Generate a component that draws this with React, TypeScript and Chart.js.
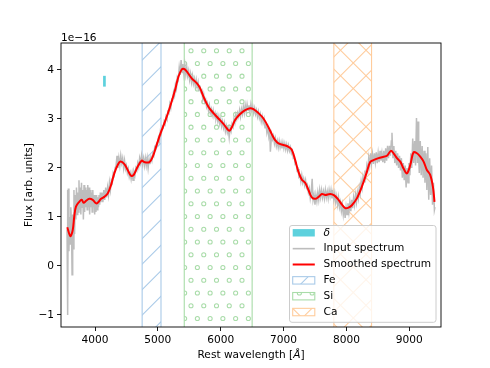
import React, { useEffect, useRef } from 'react';
import { Chart, registerables } from 'chart.js';

Chart.register(...registerables);

// ---- data ----
const inputPoints: [number, number][] = [
  [3555, 0.75], [3562, 1.55], [3568, -1.0], [3575, 1.58], [3585, 0.3], [3595, 1.0], [3605, 0.45], [3615, 1.2], [3625, 0.9], [3635, -0.18],
  [3645, 1.05], [3655, 0.35], [3665, 1.55], [3675, 0.65], [3685, 1.45], [3695, 0.95], [3705, 1.6], [3715, 1.05], [3725, 1.5], [3735, 1.1],
  [3745, 1.75], [3755, 1.15], [3765, 1.6], [3775, 1.05], [3785, 1.7], [3795, 1.2], [3805, 1.55], [3815, 0.95], [3825, 1.65], [3835, 1.1],
  [3845, 1.6], [3855, 1.2], [3865, 1.55], [3875, 1.15], [3885, 1.65], [3895, 1.2], [3905, 1.6], [3915, 1.05], [3925, 1.55], [3935, 1.2],
  [3945, 1.5], [3955, 1.1], [3965, 1.55], [3975, 1.2], [3985, 1.45], [3995, 1.05], [4005, 1.45], [4015, 1.1], [4025, 1.45], [4035, 1.15],
  [4045, 1.4], [4055, 1.2], [4065, 1.45], [4075, 1.25], [4085, 1.5], [4095, 1.3], [4110, 1.5], [4125, 1.3], [4140, 1.55], [4155, 1.35],
  [4170, 1.6], [4185, 1.4], [4200, 1.6], [4215, 1.45], [4230, 1.7], [4245, 1.55], [4260, 1.75], [4275, 1.7], [4290, 1.9], [4305, 1.85],
  [4320, 2.0], [4335, 2.05], [4350, 2.25], [4365, 2.0], [4380, 2.2], [4395, 2.05], [4410, 2.25], [4425, 2.1], [4440, 2.2], [4455, 2.0],
  [4470, 2.15], [4485, 1.98], [4500, 2.05], [4515, 1.9], [4530, 1.98], [4545, 1.82], [4560, 1.9], [4575, 1.77], [4590, 1.9], [4605, 1.75],
  [4620, 1.92], [4635, 1.85], [4650, 2.0], [4665, 1.95], [4680, 2.1], [4695, 2.02], [4710, 2.2], [4725, 2.1], [4740, 2.25], [4755, 2.08],
  [4770, 2.2], [4785, 2.05], [4800, 2.2], [4815, 2.05], [4830, 2.2], [4845, 2.0], [4860, 2.18], [4875, 2.08], [4890, 2.22], [4905, 2.15],
  [4920, 2.3], [4935, 2.25], [4950, 2.42], [4965, 2.38], [4980, 2.5], [4995, 2.47], [5010, 2.62], [5025, 2.55], [5040, 2.75], [5055, 2.7],
  [5070, 2.85], [5085, 2.82], [5100, 2.95], [5115, 2.9], [5130, 3.05], [5145, 3.0], [5160, 3.15], [5175, 3.12], [5190, 3.3], [5205, 3.22],
  [5220, 3.4], [5235, 3.38], [5250, 3.55], [5265, 3.48], [5280, 3.7], [5295, 3.62], [5310, 3.85], [5325, 3.8], [5340, 4.05], [5355, 3.9],
  [5370, 4.2], [5385, 3.95], [5400, 4.12], [5415, 3.92], [5430, 4.1], [5445, 3.9], [5460, 4.05], [5475, 3.88], [5490, 3.98], [5505, 3.8],
  [5520, 3.92], [5535, 3.75], [5550, 3.88], [5565, 3.72], [5580, 3.82], [5595, 3.68], [5610, 3.8], [5625, 3.65], [5640, 3.75], [5655, 3.58],
  [5670, 3.68], [5685, 3.55], [5700, 3.58], [5715, 3.4], [5730, 3.5], [5745, 3.35], [5760, 3.4], [5775, 3.25], [5790, 3.32], [5805, 3.18],
  [5820, 3.28], [5835, 3.12], [5850, 3.2], [5865, 3.08], [5880, 3.18], [5895, 3.05], [5910, 3.12], [5925, 3.0], [5940, 3.08], [5955, 2.95],
  [5970, 3.05], [5985, 2.9], [6000, 3.0], [6015, 2.85], [6030, 2.95], [6045, 2.82], [6060, 2.92], [6075, 2.75], [6090, 2.85], [6105, 2.72],
  [6120, 2.8], [6135, 2.62], [6150, 2.82], [6165, 2.75], [6180, 2.9], [6195, 2.85], [6210, 3.0], [6225, 2.92], [6240, 3.08], [6255, 3.0],
  [6270, 3.12], [6285, 3.05], [6300, 3.18], [6315, 3.05], [6330, 3.2], [6345, 3.1], [6360, 3.25], [6375, 3.12], [6390, 3.28], [6405, 3.15],
  [6420, 3.3], [6435, 3.18], [6450, 3.28], [6465, 3.15], [6480, 3.3], [6495, 3.18], [6510, 3.26], [6525, 3.12], [6540, 3.22], [6555, 3.1],
  [6570, 3.18], [6585, 3.05], [6600, 3.15], [6615, 3.02], [6630, 3.1], [6645, 2.95], [6660, 3.05], [6675, 2.92], [6690, 3.0], [6705, 2.82],
  [6720, 2.9], [6735, 2.72], [6750, 2.82], [6765, 2.65], [6780, 2.78], [6790, 2.33], [6810, 2.68], [6825, 2.58], [6840, 2.65], [6855, 2.5],
  [6870, 2.6], [6885, 2.45], [6900, 2.55], [6915, 2.42], [6930, 2.55], [6945, 2.42], [6960, 2.52], [6975, 2.4], [6990, 2.52], [7005, 2.4],
  [7020, 2.5], [7035, 2.38], [7050, 2.48], [7065, 2.36], [7080, 2.46], [7095, 2.35], [7110, 2.42], [7125, 2.3], [7140, 2.35], [7155, 2.2],
  [7170, 2.22], [7185, 2.08], [7200, 2.1], [7215, 1.95], [7230, 1.98], [7245, 1.82], [7260, 1.85], [7275, 1.72], [7290, 1.85], [7305, 1.7],
  [7320, 1.78], [7335, 1.65], [7350, 1.75], [7365, 1.6], [7380, 1.65], [7395, 1.5], [7410, 1.58], [7425, 1.38], [7440, 1.5], [7455, 1.78],
  [7470, 1.35], [7485, 1.45], [7500, 1.25], [7515, 1.45], [7530, 1.32], [7545, 1.5], [7560, 1.35], [7575, 1.55], [7590, 1.4], [7605, 1.55],
  [7620, 1.4], [7635, 1.52], [7650, 1.38], [7665, 1.55], [7680, 1.4], [7695, 1.52], [7710, 1.38], [7725, 1.55], [7740, 1.42], [7755, 1.55],
  [7770, 1.38], [7785, 1.5], [7800, 1.35], [7815, 1.48], [7830, 1.3], [7845, 1.42], [7860, 1.25], [7875, 1.4], [7890, 1.2], [7905, 1.3],
  [7920, 1.12], [7935, 1.25], [7950, 1.05], [7965, 1.22], [7980, 0.98], [7995, 1.2], [8010, 1.05], [8025, 1.28], [8040, 1.1], [8055, 1.3],
  [8070, 1.12], [8085, 1.35], [8100, 1.18], [8115, 1.4], [8130, 1.25], [8145, 1.45], [8160, 1.3], [8175, 1.5], [8190, 1.38], [8205, 1.6],
  [8220, 1.48], [8235, 1.72], [8250, 1.6], [8265, 1.82], [8280, 1.72], [8295, 1.95], [8310, 1.85], [8325, 2.05], [8340, 1.95], [8355, 2.2],
  [8370, 2.05], [8385, 2.3], [8400, 2.1], [8415, 2.28], [8430, 2.08], [8445, 2.3], [8460, 2.12], [8475, 2.32], [8490, 2.1], [8505, 2.3],
  [8520, 2.12], [8535, 2.35], [8550, 2.15], [8565, 2.3], [8580, 2.12], [8595, 2.35], [8610, 2.1], [8625, 2.4], [8640, 2.15], [8655, 2.45],
  [8670, 2.2], [8685, 2.45], [8700, 2.25], [8715, 2.55], [8725, 2.72], [8740, 2.2], [8755, 2.45], [8770, 2.1], [8785, 2.35], [8800, 2.05],
  [8815, 2.3], [8830, 2.0], [8845, 2.25], [8860, 1.95], [8875, 2.2], [8890, 1.8], [8905, 2.1], [8920, 1.75], [8935, 2.05], [8950, 1.6],
  [8965, 2.0], [8980, 1.7], [8995, 2.1], [9010, 1.85], [9025, 2.3], [9040, 2.0], [9055, 2.6], [9070, 2.1], [9085, 2.55], [9100, 2.05],
  [9115, 3.02], [9130, 2.1], [9140, 2.95], [9150, 2.2], [9160, 1.9], [9175, 2.55], [9190, 1.85], [9205, 2.45], [9220, 1.8], [9235, 2.35],
  [9250, 1.7], [9265, 2.3], [9280, 1.55], [9295, 2.43], [9310, 1.35], [9325, 2.2], [9340, 1.45], [9355, 2.05], [9370, 1.25], [9385, 1.7],
  [9400, 1.14], [9410, 1.2],
];

const smoothWave = [
  3559, 3607, 3645, 3670, 3697, 3750, 3788, 3820, 3857, 3910,
  3963, 4016, 4043, 4096, 4148, 4202, 4255, 4307, 4361, 4403,
  4467, 4520, 4573, 4616, 4680, 4744, 4785, 4865, 4919, 4971,
  5035, 5115, 5194, 5274, 5327, 5380, 5417, 5459, 5539, 5619,
  5672, 5724, 5804, 5884, 5963, 6043, 6096, 6138, 6177, 6229,
  6309, 6389, 6468, 6521, 6600, 6680, 6760, 6820, 6866, 6919,
  6999, 7078, 7132, 7185, 7237, 7291, 7344, 7396, 7450, 7503,
  7556, 7609, 7662, 7742, 7806, 7874, 7930, 7981, 8034, 8087,
  8166, 8246, 8326, 8378, 8431, 8511, 8591, 8645, 8708, 8750,
  8804, 8857, 8909, 8963, 9016, 9068, 9122, 9175, 9228, 9280,
  9333, 9376, 9402,
];
const smoothFlux = [
  0.79, 0.61, 0.73, 1.01, 1.21, 1.31, 1.35, 1.29, 1.33, 1.37,
  1.35, 1.28, 1.29, 1.37, 1.41, 1.48, 1.65, 1.89, 2.06, 2.13,
  2.08, 1.96, 1.84, 1.86, 2.03, 2.15, 2.12, 2.12, 2.23, 2.43,
  2.68, 2.95, 3.25, 3.59, 3.86, 4.01, 4.02, 3.97, 3.83, 3.73,
  3.63, 3.46, 3.25, 3.12, 3.01, 2.9, 2.81, 2.76, 2.83, 2.98,
  3.1, 3.18, 3.22, 3.2, 3.12, 3.01, 2.83, 2.67, 2.57, 2.5,
  2.47, 2.43, 2.37, 2.16, 1.92, 1.76, 1.7, 1.55, 1.4, 1.37,
  1.41, 1.47, 1.45, 1.47, 1.44, 1.35, 1.25, 1.18, 1.19, 1.24,
  1.38, 1.62, 1.92, 2.12, 2.16, 2.2, 2.23, 2.25, 2.35, 2.3,
  2.2, 2.13, 1.99, 1.89, 2.06, 2.32, 2.3, 2.23, 2.13, 1.96,
  1.86, 1.62, 1.31,
];

const deltaWave = [4150];
const deltaLow = [3.66];
const deltaHigh = [3.88];

const regionNames = ['Fe', 'Si', 'Ca'];
const regionStart = [4750, 5420, 7800];
const regionEnd = [5050, 6500, 8400];
const regionHatch = ['/', 'o', 'x'];
const regionColor = ['#a9cae8', '#a9dca9', '#ffcc9c'];

const xTicks = [4000, 5000, 6000, 7000, 8000, 9000];
const yTicks = [-1, 0, 1, 2, 3, 4];
const X_MIN = 3459;
const X_MAX = 9505;
const Y_MIN = -1.245;
const Y_MAX = 4.55;

const FONT = 'DejaVu Sans';
const FS = 10.6;

function drawHatch(ctx: CanvasRenderingContext2D, kind: string, x0: number, y0: number, x1: number, y1: number, color: string) {
  ctx.save();
  ctx.beginPath();
  ctx.rect(x0, y0, x1 - x0, y1 - y0);
  ctx.clip();
  ctx.strokeStyle = color;
  ctx.lineWidth = 1.05;
  const S = 25.5;
  if (kind === '/' || kind === 'x') {
    const phase = kind === '/' ? 23.8 : 8.3;
    let c = Math.floor((x0 + y0 - phase) / S) * S + phase;
    for (; c <= x1 + y1 + S; c += S) {
      ctx.beginPath();
      ctx.moveTo(x0 - 2, c - (x0 - 2));
      ctx.lineTo(x1 + 2, c - (x1 + 2));
      ctx.stroke();
    }
  }
  if (kind === 'x') {
    const phase = 9.8;
    let c = Math.floor((x0 - y1 - phase) / S) * S + phase;
    for (; c <= x1 - y0 + S; c += S) {
      ctx.beginPath();
      ctx.moveTo(x0 - 2, x0 - 2 - c);
      ctx.lineTo(x1 + 2, x1 + 2 - c);
      ctx.stroke();
    }
  }
  if (kind === 'o') {
    const G = 12.75;
    const ox = 191, oy = 50.7;
    const jStart = Math.floor((y0 - oy) / G) - 1;
    const jEnd = Math.ceil((y1 - oy) / G) + 1;
    for (let j = jStart; j <= jEnd; j++) {
      const off = (j & 1) ? G / 2 : 0;
      const iStart = Math.floor((x0 - ox - off) / G) - 1;
      const iEnd = Math.ceil((x1 - ox - off) / G) + 1;
      for (let i = iStart; i <= iEnd; i++) {
        ctx.beginPath();
        ctx.arc(ox + off + i * G, oy + j * G, 2.05, 0, Math.PI * 2);
        ctx.stroke();
      }
    }
  }
  ctx.restore();
}

const decorPlugin = {
  id: 'decor',
  beforeDatasetsDraw(chart: any) {
    const { ctx, chartArea: a, scales } = chart;
    const xs = scales.x;
    ctx.save();
    ctx.beginPath();
    ctx.rect(a.left, a.top, a.right - a.left, a.bottom - a.top);
    ctx.clip();
    regionNames.forEach((_, i) => {
      const l = xs.getPixelForValue(regionStart[i]);
      const r = xs.getPixelForValue(regionEnd[i]);
      drawHatch(ctx, regionHatch[i], l, a.top, r, a.bottom, regionColor[i]);
      ctx.strokeStyle = regionColor[i];
      ctx.lineWidth = 1.1;
      ctx.beginPath();
      ctx.moveTo(l, a.top); ctx.lineTo(l, a.bottom);
      ctx.moveTo(r, a.top); ctx.lineTo(r, a.bottom);
      ctx.stroke();
    });
    ctx.restore();
  },
  afterDatasetsDraw(chart: any) {
    const { ctx, chartArea: a } = chart;
    ctx.save();
    // frame
    ctx.strokeStyle = '#000';
    ctx.lineWidth = 0.9;
    ctx.strokeRect(a.left, a.top, a.right - a.left, a.bottom - a.top);

    // offset text
    ctx.fillStyle = '#000';
    ctx.font = `${FS}px "${FONT}"`;
    ctx.textAlign = 'left';
    ctx.textBaseline = 'alphabetic';
    ctx.fillText('1e\u221216', a.left, 40.8);

    // x label
    const xl1 = 'Rest wavelength [';
    ctx.font = `${FS}px "${FONT}"`;
    const w1 = ctx.measureText(xl1).width;
    ctx.font = `italic ${FS}px "${FONT}"`;
    const w2 = ctx.measureText('\u00c5').width;
    ctx.font = `${FS}px "${FONT}"`;
    const w3 = ctx.measureText(']').width;
    const tot = w1 + w2 + w3;
    const sx = (a.left + a.right) / 2 - tot / 2;
    ctx.textBaseline = 'middle';
    ctx.fillText(xl1, sx, 355.5);
    ctx.font = `italic ${FS}px "${FONT}"`;
    ctx.fillText('\u00c5', sx + w1, 355.5);
    ctx.font = `${FS}px "${FONT}"`;
    ctx.fillText(']', sx + w1 + w2, 355.5);

    // y label
    ctx.save();
    ctx.translate(28.8, (a.top + a.bottom) / 2);
    ctx.rotate(-Math.PI / 2);
    ctx.textAlign = 'center';
    ctx.textBaseline = 'middle';
    ctx.fillText('Flux [arb. units]', 0, 0);
    ctx.restore();

    // legend
    const lx = 289.5, ly = 225.5, lw = 146.5, lh = 96.8;
    ctx.beginPath();
    if ((ctx as any).roundRect) (ctx as any).roundRect(lx, ly, lw, lh, 2.5);
    else ctx.rect(lx, ly, lw, lh);
    ctx.fillStyle = 'rgba(255,255,255,0.8)';
    ctx.fill();
    ctx.strokeStyle = '#cccccc';
    ctx.lineWidth = 1;
    ctx.stroke();

    const hx0 = 292.7, hx1 = 314.8, tx = 323.5;
    const rowY = (k: number) => 232.8 + k * 15.85;
    const ph = 3.7;
    // delta
    ctx.fillStyle = '#5dd1dd';
    ctx.fillRect(hx0, rowY(0) - ph, hx1 - hx0, ph * 2);
    // input
    ctx.strokeStyle = '#bdbdbd';
    ctx.lineWidth = 1.6;
    ctx.beginPath(); ctx.moveTo(hx0, rowY(1)); ctx.lineTo(hx1, rowY(1)); ctx.stroke();
    // smoothed
    ctx.strokeStyle = '#ff0000';
    ctx.lineWidth = 2;
    ctx.beginPath(); ctx.moveTo(hx0, rowY(2)); ctx.lineTo(hx1, rowY(2)); ctx.stroke();
    // regions
    regionNames.forEach((_, i) => {
      const cy = rowY(3 + i);
      drawHatch(ctx, regionHatch[i], hx0, cy - ph, hx1, cy + ph, regionColor[i]);
      ctx.strokeStyle = regionColor[i];
      ctx.lineWidth = 1.1;
      ctx.strokeRect(hx0, cy - ph, hx1 - hx0, ph * 2);
    });

    ctx.fillStyle = '#000';
    ctx.textAlign = 'left';
    ctx.textBaseline = 'middle';
    ctx.font = `italic ${FS}px "${FONT}"`;
    ctx.fillText('\u03b4', tx, rowY(0));
    ctx.font = `${FS}px "${FONT}"`;
    ctx.fillText('Input spectrum', tx, rowY(1));
    ctx.fillText('Smoothed spectrum', tx, rowY(2));
    regionNames.forEach((n, i) => ctx.fillText(n, tx, rowY(3 + i)));
    ctx.restore();
  },
};

export default function App() {
  const ref = useRef<HTMLCanvasElement | null>(null);
  useEffect(() => {
    document.body.style.margin = '0';
    const canvas = ref.current!;
    const tickFont = { family: FONT, size: FS };
    const chart = new Chart(canvas, {
      type: 'line',
      data: {
        datasets: [
          {
            label: 'Input spectrum',
            data: inputPoints.map(([x, y]) => ({ x, y })),
            borderColor: '#bdbdbd',
            borderWidth: 1.5,
            pointRadius: 0,
            tension: 0,
            order: 2,
          } as any,
          {
            label: 'Smoothed spectrum',
            data: smoothWave.map((x, i) => ({ x, y: smoothFlux[i] })),
            borderColor: '#ff0000',
            borderWidth: 2,
            pointRadius: 0,
            tension: 0.35,
            order: 0,
          },
          {
            label: '\u03b4',
            data: deltaWave.flatMap((x, i) => [{ x, y: deltaLow[i] }, { x, y: deltaHigh[i] }]),
            borderColor: '#5dd1dd',
            borderWidth: 2.7,
            borderCapStyle: 'butt',
            pointRadius: 0,
            order: 1,
          },
        ],
      },
      options: {
        animation: false,
        responsive: false,
        events: [],
        layout: { padding: { top: 43, right: 49, left: 0, bottom: 0 } },
        plugins: { legend: { display: false }, tooltip: { enabled: false } },
        scales: {
          x: {
            type: 'linear',
            min: X_MIN,
            max: X_MAX,
            afterFit: (s: any) => { s.height = 41; },
            afterBuildTicks: (s: any) => { s.ticks = xTicks.map((v) => ({ value: v })); },
            grid: { drawOnChartArea: false, drawTicks: true, tickLength: 4, color: '#000', lineWidth: 0.9 },
            border: { display: false },
            ticks: {
              padding: 2.5,
              color: '#000',
              font: tickFont,
              maxRotation: 0,
              autoSkip: false,
              callback: (v: any) => String(v),
            },
          },
          y: {
            type: 'linear',
            min: Y_MIN,
            max: Y_MAX,
            afterFit: (s: any) => { s.width = 61; },
            afterBuildTicks: (s: any) => { s.ticks = yTicks.map((v) => ({ value: v })); },
            grid: { drawOnChartArea: false, drawTicks: true, tickLength: 4, color: '#000', lineWidth: 0.9 },
            border: { display: false },
            ticks: {
              padding: 3,
              color: '#000',
              font: tickFont,
              autoSkip: false,
              callback: (v: any) => (v < 0 ? '\u2212' + Math.abs(v) : String(v)),
            },
          },
        },
      } as any,
      plugins: [decorPlugin],
    });
    return () => chart.destroy();
  }, []);
  return <canvas ref={ref} width={490} height={368} style={{ display: 'block' }} />;
}
